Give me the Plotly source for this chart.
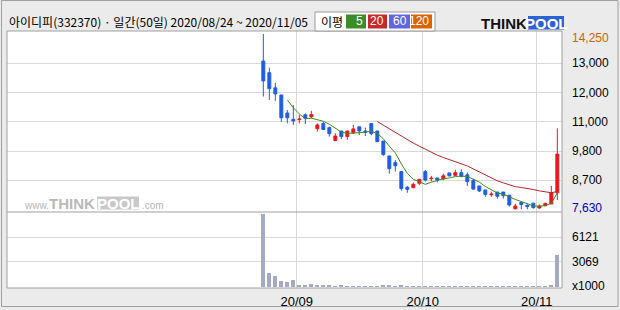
import plotly.graph_objects as go
import pandas as pd

# ---------------- data ----------------
dates = ["2020/08/24", "2020/08/25", "2020/08/26", "2020/08/27", "2020/08/28", "2020/08/31",
         "2020/09/01", "2020/09/02", "2020/09/03", "2020/09/04", "2020/09/07", "2020/09/08",
         "2020/09/09", "2020/09/10", "2020/09/11", "2020/09/14", "2020/09/15", "2020/09/16",
         "2020/09/17", "2020/09/18", "2020/09/21", "2020/09/22", "2020/09/23", "2020/09/24",
         "2020/09/25", "2020/09/28", "2020/09/29", "2020/10/05", "2020/10/06", "2020/10/07",
         "2020/10/08", "2020/10/12", "2020/10/13", "2020/10/14", "2020/10/15", "2020/10/16",
         "2020/10/19", "2020/10/20", "2020/10/21", "2020/10/22", "2020/10/23", "2020/10/26",
         "2020/10/27", "2020/10/28", "2020/10/29", "2020/10/30", "2020/11/02", "2020/11/03",
         "2020/11/04", "2020/11/05"]

opens = [13230, 12790, 12220, 11950, 11270, 11030, 11020, 11200, 11130, 10680,
         10870, 10720, 10230, 10590, 10380, 10520, 10750, 10590, 10870, 10590,
         10210, 9650, 9400, 9060, 8470, 8450, 8620, 9060, 8790, 8820,
         8780, 9010, 8920, 9020, 8940, 8720, 8520, 8370, 8190, 8290,
         8290, 8170, 7660, 7900, 7790, 7870, 7690, 7770, 7840, 8260]
closes = [12480, 12190, 11990, 11090, 11090, 10970, 11040, 11070, 11210, 10820,
          10650, 10490, 10400, 10380, 10590, 10670, 10590, 10540, 10490, 10190,
          9700, 9170, 9280, 8420, 8390, 8580, 8770, 8740, 8810, 8740,
          8900, 8900, 9020, 8880, 8680, 8400, 8330, 8200, 8210, 8130,
          8150, 7800, 7760, 7820, 7740, 7700, 7760, 7860, 8260, 9720]
highs = [14250, 12980, 12410, 11950, 11380, 11570, 11200, 11260, 11350, 10880,
         10940, 10750, 10500, 10590, 10590, 10820, 10750, 10720, 10880, 10590,
         10210, 9650, 9500, 9060, 8520, 8640, 8770, 9120, 8900, 8820,
         8980, 9010, 9130, 9150, 9030, 8790, 8520, 8370, 8300, 8290,
         8290, 8170, 7850, 7900, 7830, 7870, 7820, 7890, 8520, 10690]
lows = [11890, 11760, 11730, 10940, 10880, 10820, 10880, 10850, 11070, 10570,
        10630, 10380, 10230, 10280, 10260, 10480, 10440, 10400, 10430, 10190,
        9660, 8980, 9060, 8340, 8260, 8450, 8550, 8690, 8690, 8650,
        8740, 8870, 8890, 8840, 8520, 8370, 8290, 8110, 8110, 8040,
        8040, 7740, 7630, 7640, 7640, 7660, 7650, 7770, 7840, 7990]
volumes = [8940, 1715, 1385, 735, 612, 857, 245, 245, 367, 245,
           245, 245, 122, 245, 122, 122, 122, 122, 122, 122,
           245, 245, 122, 245, 122, 122, 122, 122, 122, 122,
           122, 122, 122, 122, 122, 122, 122, 122, 122, 122,
           122, 122, 122, 122, 122, 122, 122, 122, 245, 3920]

month_starts = ["2020/09/01", "2020/10/05", "2020/11/02"]
month_labels = ["20/09", "20/10", "20/11"]

price_grid = [13147, 12043, 10940, 9837, 8733]
price_labels = ["13,000", "12,000", "11,000", "9,800", "8,700"]
price_max, price_min = 14250, 7630
vol_grid = [3069, 6121]
vol_labels = ["3069", "6121"]

title_text = "아이디피(332370) · 일간(50일) 2020/08/24 ~ 2020/11/05"
ma_periods = ["5", "20", "60", "120"]
ma_colors = ["#3c8c28", "#c82828", "#6464dc", "#dc6400"]

# ---------------- derived ----------------
idx = list(range(len(dates)))
s_close = pd.Series(closes)
ma5 = s_close.rolling(5).mean()
ma20 = s_close.rolling(20).mean()

W, H = 620, 310
L, R, T, B = 7, 58, 31, 22
PW, PH = W - L - R, H - T - B


def px(x):
    return (x - L) / PW


def py(y):
    return (H - B - y) / PH


vol_dom_top = (288 - 212) / PH

RED = "#f0141e"
BLUE = "#1e5ee6"
FONT = "Liberation Sans"

fig = go.Figure()

fig.add_trace(go.Bar(x=idx, y=volumes, xaxis="x", yaxis="y", width=0.7,
                     marker=dict(color="#a3aac3", line=dict(width=0)),
                     hoverinfo="skip", showlegend=False))

fig.add_trace(go.Candlestick(x=idx, open=opens, high=highs, low=lows, close=closes,
                             xaxis="x", yaxis="y2", whiskerwidth=0,
                             increasing=dict(line=dict(color=RED, width=1), fillcolor=RED),
                             decreasing=dict(line=dict(color=BLUE, width=1), fillcolor=BLUE),
                             hoverinfo="skip", showlegend=False))

fig.add_trace(go.Scatter(x=idx, y=ma20, xaxis="x", yaxis="y2", mode="lines",
                         line=dict(color="#b42828", width=1), hoverinfo="skip", showlegend=False))
fig.add_trace(go.Scatter(x=idx, y=ma5, xaxis="x", yaxis="y2", mode="lines",
                         line=dict(color="#3c8c1e", width=1), hoverinfo="skip", showlegend=False))

tick_pos = [dates.index(d) - 0.43 for d in month_starts]

fig.update_layout(
    width=W, height=H,
    margin=dict(l=L, r=R, t=T, b=B, pad=0, autoexpand=False),
    paper_bgcolor="#ebebeb", plot_bgcolor="#ffffff",
    showlegend=False, bargap=0,
    xaxis=dict(anchor="y", range=[-42.72, 49.78], tickmode="array", tickvals=tick_pos,
               ticktext=month_labels, showgrid=True, gridcolor="#d9d9d9", gridwidth=1,
               zeroline=False, showline=False, ticks="", rangeslider=dict(visible=False),
               ticklabelstandoff=4, automargin=False,
               tickfont=dict(family=FONT, size=13, color="#000000")),
    yaxis=dict(domain=[0, vol_dom_top], range=[-122, 9190], tickmode="array", tickvals=vol_grid,
               showticklabels=False, showgrid=True, gridcolor="#d9d9d9", zeroline=False, ticks="",
               automargin=False),
    yaxis2=dict(domain=[vol_dom_top, 1], range=[7536, 14363], tickmode="array", tickvals=price_grid,
                showticklabels=False, showgrid=True, gridcolor="#d9d9d9", zeroline=False, ticks="",
                anchor="x", automargin=False),
)

shapes = []
# outer frame
shapes.append(dict(type="rect", xref="paper", yref="paper", x0=px(1.5), x1=px(618), y0=py(306.5), y1=py(0.5),
                   line=dict(color="#a0a0a0", width=1), layer="below"))
# plot frame
shapes.append(dict(type="rect", xref="paper", yref="paper", x0=0, x1=1, y0=0, y1=1,
                   line=dict(color="#a0a0a0", width=1)))
# separator between panels
shapes.append(dict(type="line", xref="paper", yref="paper", x0=0, x1=1, y0=vol_dom_top, y1=vol_dom_top,
                   line=dict(color="#a0a0a0", width=1)))
# legend box
shapes.append(dict(type="rect", xref="paper", yref="paper", x0=px(315), x1=px(435), y0=py(31), y1=py(12),
                   line=dict(color="#9a9a9a", width=1), fillcolor="#ffffff"))
box_x = [(346, 366), (368, 387), (389, 410), (411, 432)]
for (a, b_), c in zip(box_x, ma_colors):
    shapes.append(dict(type="rect", xref="paper", yref="paper", x0=px(a), x1=px(b_), y0=py(28.5), y1=py(14.5),
                       line=dict(width=0), fillcolor=c))
# watermark POOL box
shapes.append(dict(type="rect", xref="paper", yref="paper", x0=px(97), x1=px(139), y0=py(209.5), y1=py(196.5),
                   line=dict(width=0), fillcolor="#c8c8c8", layer="below"))
# logo POOL box
shapes.append(dict(type="rect", xref="paper", yref="paper", x0=px(528), x1=px(564), y0=py(29.5), y1=py(16),
                   line=dict(width=0), fillcolor="#2a62d8"))
fig.update_layout(shapes=shapes)

ann = []
ann.append(dict(text=title_text, xref="paper", yref="paper", x=px(7), y=py(22), xanchor="left", yanchor="middle",
                showarrow=False, font=dict(family="Noto Sans CJK KR", size=12, color="#000000")))
ann.append(dict(text="이평", xref="paper", yref="paper", x=px(332), y=py(21.5), xanchor="center", yanchor="middle",
                showarrow=False, font=dict(family="Noto Sans CJK KR", size=12, color="#000000")))
for (a, b_), t in zip(box_x, ma_periods):
    ann.append(dict(text=t, xref="paper", yref="paper", x=px(b_ - 1), y=py(21.5), xanchor="right",
                    yanchor="middle", showarrow=False, font=dict(family=FONT, size=12, color="#ffffff")))
# logo
ann.append(dict(text="<b>THINK</b>", xref="paper", yref="paper", x=px(479), y=py(23), xanchor="left",
                yanchor="middle", showarrow=False, font=dict(family="Liberation Sans", size=15, color="#111111")))
ann.append(dict(text="<b>POOL</b>", xref="paper", yref="paper", x=px(546), y=py(23), xanchor="center",
                yanchor="middle", showarrow=False, font=dict(family="Liberation Sans", size=15, color="#ffffff")))
# watermark
ann.append(dict(text="www.", xref="paper", yref="paper", x=px(22), y=py(205.5), xanchor="left", yanchor="middle",
                showarrow=False, font=dict(family=FONT, size=10, color="#b4b4b4")))
ann.append(dict(text="<b>THINK</b>", xref="paper", yref="paper", x=px(47), y=py(203), xanchor="left",
                yanchor="middle", showarrow=False, font=dict(family=FONT, size=15, color="#b9b9b9")))
ann.append(dict(text="<b>POOL</b>", xref="paper", yref="paper", x=px(118), y=py(203), xanchor="center",
                yanchor="middle", showarrow=False, font=dict(family=FONT, size=15, color="#ffffff")))
ann.append(dict(text=".com", xref="paper", yref="paper", x=px(140), y=py(205.5), xanchor="left",
                yanchor="middle", showarrow=False, font=dict(family=FONT, size=10, color="#b4b4b4")))

# right price labels
def right_label(text, yval, yref, color="#000000", yshift=0):
    return dict(text=text, xref="paper", yref=yref, x=1, y=yval, xanchor="left", yanchor="middle",
                xshift=8, yshift=yshift, showarrow=False, font=dict(family=FONT, size=12, color=color))


ann.append(right_label("14,250", price_max, "y2", "#d26400", yshift=-4))
for v, t in zip(price_grid, price_labels):
    ann.append(right_label(t, v, "y2"))
ann.append(right_label("7,630", price_min, "y2", "#0000c8", yshift=2))
for v, t in zip(vol_grid, vol_labels):
    ann.append(right_label(t, v, "y"))
ann.append(dict(text="x1000", xref="paper", yref="paper", x=1, y=py(286), xanchor="left", yanchor="middle",
                xshift=8, showarrow=False, font=dict(family=FONT, size=12, color="#000000")))
fig.update_layout(annotations=ann)

fig.write_html("out.html")
